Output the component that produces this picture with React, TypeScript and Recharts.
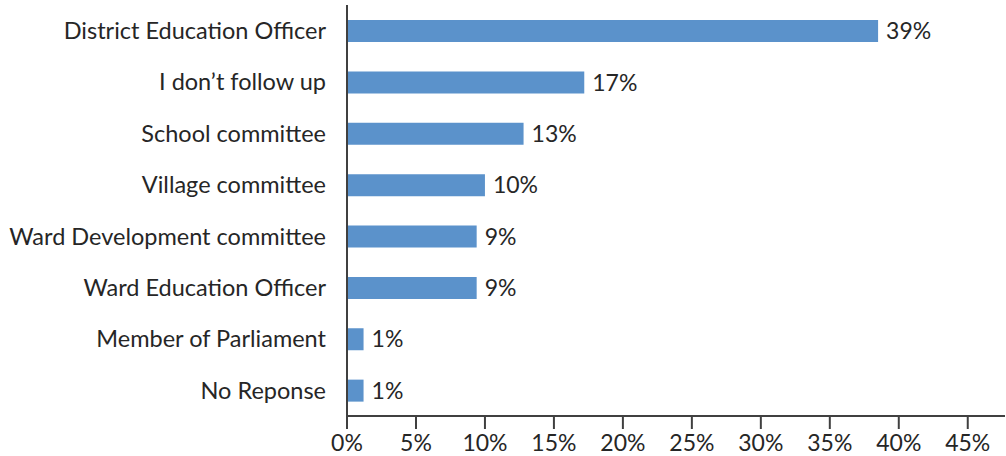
import React from "react";
import { BarChart, Bar, XAxis, YAxis, LabelList } from "recharts";

const categories = [
  "District Education Officer",
  "I don’t follow up",
  "School committee",
  "Village committee",
  "Ward Development committee",
  "Ward Education Officer",
  "Member of Parliament",
  "No Reponse",
];
const values = [38.5, 17.2, 12.8, 10.0, 9.4, 9.4, 1.2, 1.2];
const valueLabels = ["39%", "17%", "13%", "10%", "9%", "9%", "1%", "1%"];
const xTicks = [0, 5, 10, 15, 20, 25, 30, 35, 40, 45];

const data = categories.map((c, i) => ({ name: c, value: values[i], label: valueLabels[i] }));

const FONT = "Lato, 'Liberation Sans', sans-serif";
const TEXT = "#262626";
const AXIS = "#404040";

export default function App() {
  return (
    <div style={{ position: "absolute", left: 0, top: 0, background: "#fff" }}>
      <BarChart
        width={1006}
        height={456}
        data={data}
        layout="vertical"
        margin={{ top: 5, right: 1, bottom: 0, left: 0 }}
        barCategoryGap={0}
      >
        <XAxis
          type="number"
          domain={[0, 47.7]}
          ticks={xTicks}
          allowDataOverflow
          tickFormatter={(v: number) => `${v}%`}
          height={40}
          tickSize={13}
          tickMargin={6}
          axisLine={{ stroke: AXIS, strokeWidth: 2 }}
          tickLine={{ stroke: AXIS, strokeWidth: 2 }}
          tick={{ fill: TEXT, fontSize: 23, fontFamily: FONT }}
        />
        <YAxis
          type="category"
          dataKey="name"
          width={347}
          tickLine={false}
          tickSize={0}
          tickMargin={21}
          axisLine={{ stroke: AXIS, strokeWidth: 2 }}
          tick={{ fill: TEXT, fontSize: 23.5, fontFamily: FONT }}
          interval={0}
        />
        <Bar dataKey="value" fill="#5B92CB" barSize={22} isAnimationActive={false}>
          <LabelList
            dataKey="label"
            position="right"
            offset={8}
            fill={TEXT}
            fontSize={23}
            fontFamily={FONT}
          />
        </Bar>
      </BarChart>
    </div>
  );
}
